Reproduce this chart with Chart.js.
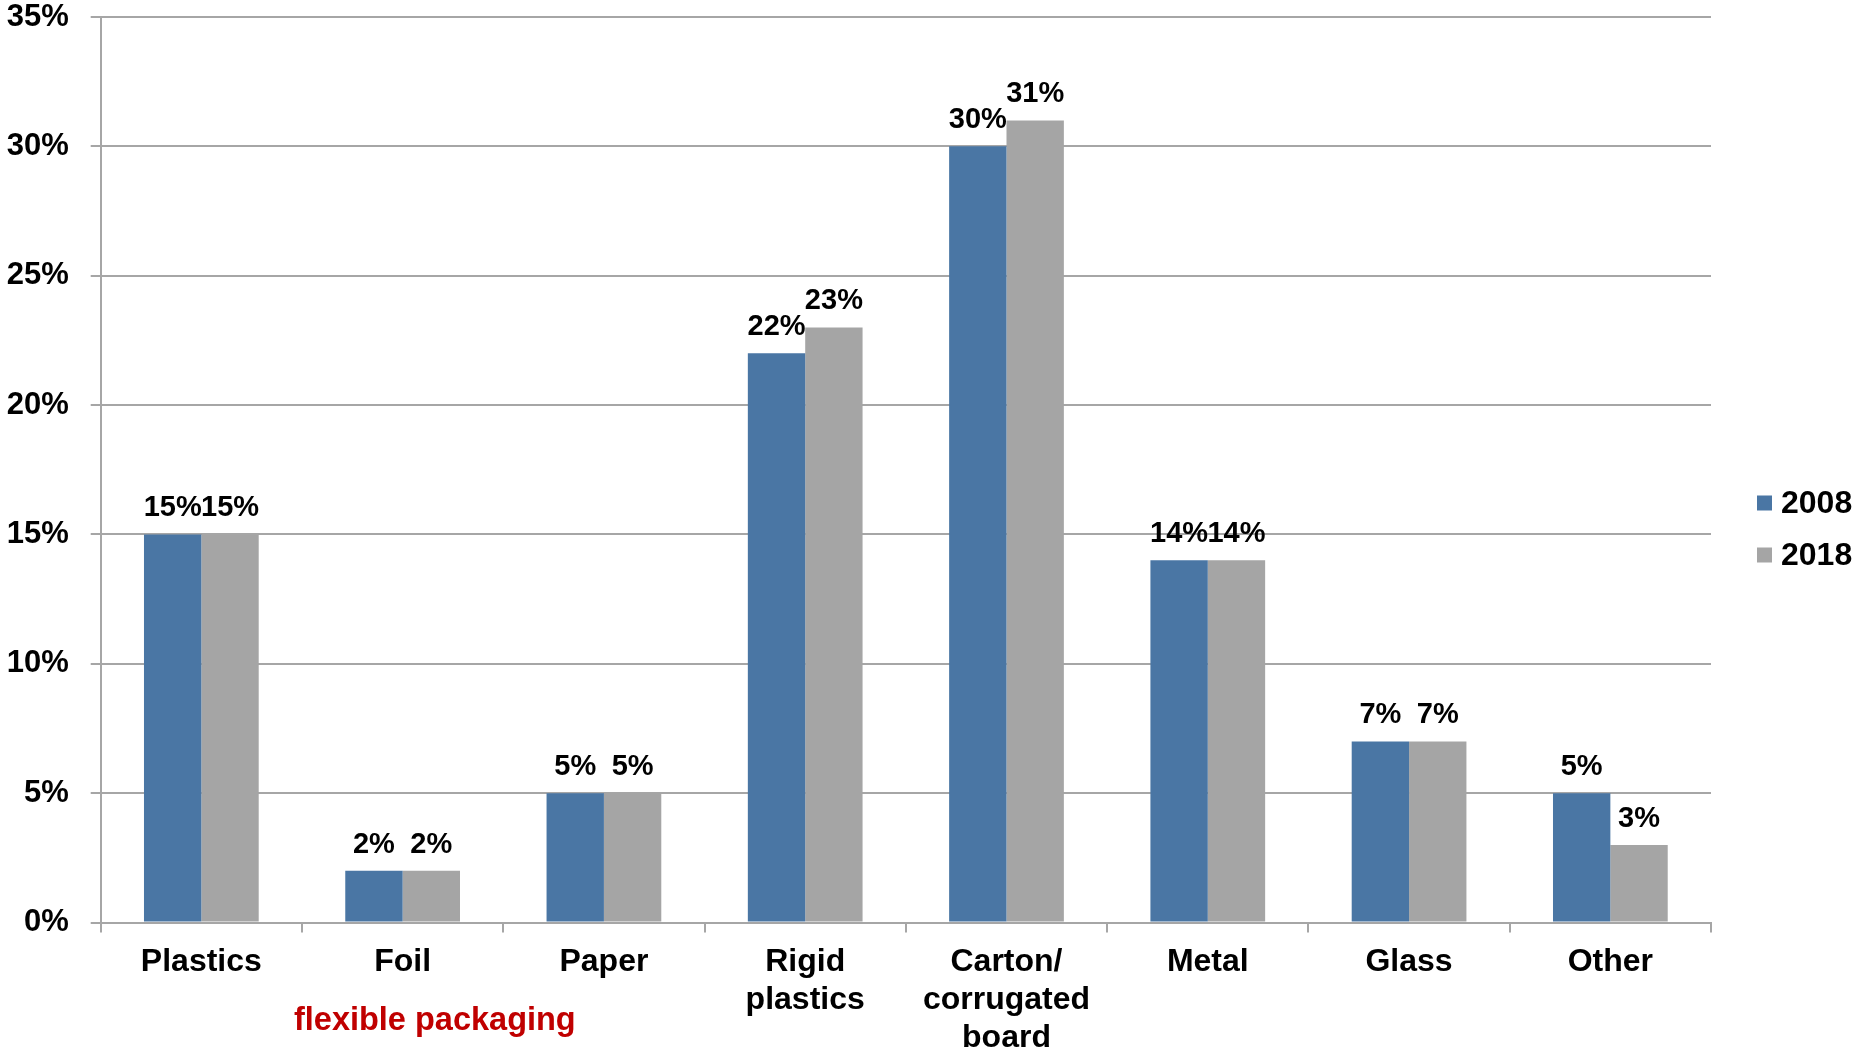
<!DOCTYPE html>
<html>
<head>
<meta charset="utf-8">
<script src="https://cdn.jsdelivr.net/npm/chart.js@4.4.0/dist/chart.umd.min.js"></script>
<style>
  html, body { margin: 0; padding: 0; background: #fff; }
  #wrap { width: 1857px; height: 1052px; }
</style>
</head>
<body>
<div id="wrap"><canvas id="chartCanvas" width="1857" height="1052"></canvas></div>
<script>
const categories = ['Plastics', 'Foil', 'Paper', ['Rigid', 'plastics'], ['Carton/', 'corrugated', 'board'], 'Metal', 'Glass', 'Other'];
const share2008 = [15, 2, 5, 22, 30, 14, 7, 5];
const share2018 = [15, 2, 5, 23, 31, 14, 7, 3];
const yTicks = [0, 5, 10, 15, 20, 25, 30, 35];
const seriesNames = ['2008', '2018'];
const groupNote = 'flexible packaging';

const FONT = '"Liberation Sans", Arial, sans-serif';
const gridGray = '#a6a6a6';
const colors = ['#4a76a4', '#a5a5a5'];

// labels over every bar
const barLabels = {
    id: 'barLabels',
    afterDatasetsDraw(chart) {
        const ctx = chart.ctx;
        ctx.save();
        ctx.font = 'bold 29px ' + FONT;
        ctx.fillStyle = '#000';
        ctx.textAlign = 'center';
        ctx.textBaseline = 'alphabetic';
        chart.data.datasets.forEach((ds, i) => {
            chart.getDatasetMeta(i).data.forEach((bar, j) => {
                ctx.fillText(ds.data[j] + '%', bar.x, bar.y - 18);
            });
        });
        ctx.restore();
    }
};

// red note under Foil + legend on the right
const extras = {
    id: 'extras',
    afterDraw(chart) {
        const x = chart.scales.x;
        const step = x.getPixelForValue(1) - x.getPixelForValue(0);
        const ctx = chart.ctx;
        ctx.save();
        ctx.font = 'bold 32.5px ' + FONT;
        ctx.fillStyle = '#c00000';
        ctx.textAlign = 'center';
        ctx.textBaseline = 'middle';
        ctx.fillText(groupNote, x.getPixelForValue(1) + step * 0.16, 1021);

        // legend
        const lx = chart.chartArea.right + 46;
        ctx.font = 'bold 32px ' + FONT;
        ctx.textAlign = 'left';
        chart.data.datasets.forEach((ds, i) => {
            const cy = 503 + i * 52;
            ctx.fillStyle = ds.backgroundColor;
            ctx.fillRect(lx, cy - 7.5, 15, 15);
            ctx.fillStyle = '#000';
            ctx.fillText(ds.label, lx + 24, cy + 1);
        });
        ctx.restore();
    }
};

new Chart(document.getElementById('chartCanvas'), {
    type: 'bar',
    data: {
        labels: categories,
        datasets: [
            { label: seriesNames[0], data: share2008, backgroundColor: colors[0], borderWidth: 0 },
            { label: seriesNames[1], data: share2018, backgroundColor: colors[1], borderWidth: 0 }
        ]
    },
    options: {
        responsive: false,
        devicePixelRatio: 1,
        animation: false,
        layout: { padding: { top: 17, left: 0, right: 146, bottom: 0 } },
        datasets: { bar: { categoryPercentage: 0.57, barPercentage: 1.0 } },
        plugins: {
            legend: { display: false },
            tooltip: { enabled: false }
        },
        scales: {
            x: {
                afterFit(scale) {
                    scale.height = 129.4;
                    scale.paddingLeft = 0;
                    scale.paddingRight = 0;
                },
                grid: { display: true, drawOnChartArea: false, drawTicks: true, tickLength: 10, color: gridGray, lineWidth: 2, offset: true },
                border: { display: true, color: gridGray, width: 2 },
                ticks: {
                    color: '#000',
                    padding: 10,
                    maxRotation: 0,
                    autoSkip: false,
                    font: { family: FONT, size: 32, weight: 'bold', lineHeight: 1.2 }
                }
            },
            y: {
                min: 0,
                max: 35,
                afterBuildTicks(axis) { axis.ticks = yTicks.map(v => ({ value: v })); },
                afterFit(scale) {
                    scale.width = 100.7;
                    scale.paddingTop = 0;
                    scale.paddingBottom = 0;
                },
                grid: { color: gridGray, lineWidth: 2, tickLength: 10 },
                border: { display: true, color: gridGray, width: 2 },
                ticks: {
                    color: '#000',
                    padding: 22,
                    font: { family: FONT, size: 31, weight: 'bold' },
                    callback: v => v + '%'
                }
            }
        }
    },
    plugins: [barLabels, extras]
});
</script>
</body>
</html>
